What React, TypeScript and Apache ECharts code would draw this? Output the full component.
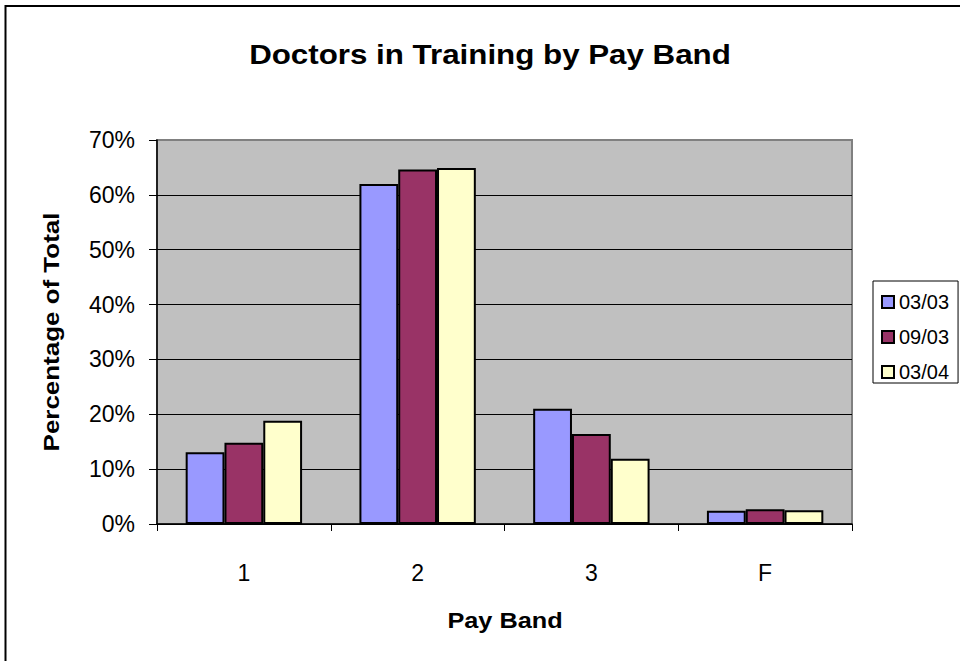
import React, { useEffect, useRef } from "react";
import * as echarts from "echarts";

const categories = ["1", "2", "3", "F"];
const seriesNames = ["03/03", "09/03", "03/04"];
const values0303 = [13.1, 62.0, 21.0, 2.4];
const values0903 = [14.8, 64.6, 16.4, 2.7];
const values0304 = [18.8, 64.9, 11.9, 2.5];
const colors = ["#9999FF", "#993366", "#FFFFCC"];
const titleText = "Doctors in Training by Pay Band";
const xName = "Pay Band";
const yName = "Percentage of Total";

const FONT = '"Liberation Sans", Arial, Helvetica, sans-serif';

export default function App() {
  const ref = useRef<HTMLDivElement>(null);
  useEffect(() => {
    if (!ref.current) return;
    const chart = echarts.init(ref.current, undefined, { renderer: "svg" });
    const allValues = [values0303, values0903, values0304];
    chart.setOption({
      animation: false,
      backgroundColor: "#ffffff",
      textStyle: { fontFamily: FONT },
      grid: {
        left: 157,
        right: 108,
        top: 140,
        bottom: 137,
        show: true,
        backgroundColor: "#C0C0C0",
        borderColor: "#808080",
        borderWidth: 2,
      },
      legend: {
        orient: "vertical",
        left: 873,
        top: 281,
        data: seriesNames,
        icon: "rect",
        itemWidth: 12,
        itemHeight: 12,
        itemGap: 15,
        padding: [11, 9, 1, 8],
        borderColor: "#000",
        borderWidth: 1,
        backgroundColor: "#fff",
        borderRadius: 0,
        itemStyle: { borderColor: "#000", borderWidth: 2 },
        textStyle: { fontSize: 20, lineHeight: 20, color: "#000", fontFamily: FONT },
      },
      xAxis: {
        type: "category",
        data: categories,
        axisLine: { show: true, lineStyle: { color: "#000", width: 1.5 } },
        axisTick: { show: true, length: 7, lineStyle: { color: "#000", width: 1 } },
        axisLabel: { fontSize: 23, color: "#000", margin: 37, fontFamily: FONT },
        splitLine: { show: false },
      },
      yAxis: {
        type: "value",
        min: 0,
        max: 70,
        interval: 10,
        axisLine: { show: true, lineStyle: { color: "#000", width: 1.5 } },
        axisTick: { show: true, length: 8, lineStyle: { color: "#000", width: 1 } },
        axisLabel: { fontSize: 23, color: "#000", margin: 22, formatter: "{value}%", fontFamily: FONT },
        splitLine: { show: true, showMaxLine: false, lineStyle: { color: "#000", width: 1 } },
      },
      series: seriesNames.map((name, i) => ({
        name,
        type: "bar",
        data: allValues[i],
        barGap: "0%",
        barCategoryGap: "33%",
        itemStyle: { color: colors[i], borderColor: "#000", borderWidth: 2 },
      })),
      graphic: [
        {
          type: "rect",
          shape: { x: 5.5, y: 6, width: 1000, height: 700 },
          style: { fill: "none", stroke: "#000", lineWidth: 2 },
          silent: true,
        },
        {
          type: "text",
          x: 490,
          y: 55,
          scaleX: 1.16,
          style: {
            text: titleText,
            font: `bold 27px ${FONT}`,
            fill: "#000",
            textAlign: "center",
            textVerticalAlign: "middle",
          },
        },
        {
          type: "text",
          x: 505,
          y: 621,
          scaleX: 1.15,
          style: {
            text: xName,
            font: `bold 22px ${FONT}`,
            fill: "#000",
            textAlign: "center",
            textVerticalAlign: "middle",
          },
        },
        {
          type: "text",
          x: 51,
          y: 332,
          rotation: Math.PI / 2,
          scaleX: 1.18,
          style: {
            text: yName,
            font: `bold 22px ${FONT}`,
            fill: "#000",
            textAlign: "center",
            textVerticalAlign: "middle",
          },
        },
      ],
    });
    return () => chart.dispose();
  }, []);
  return (
    <div
      ref={ref}
      style={{ position: "fixed", left: 0, top: 0, width: 960, height: 661 }}
    />
  );
}
